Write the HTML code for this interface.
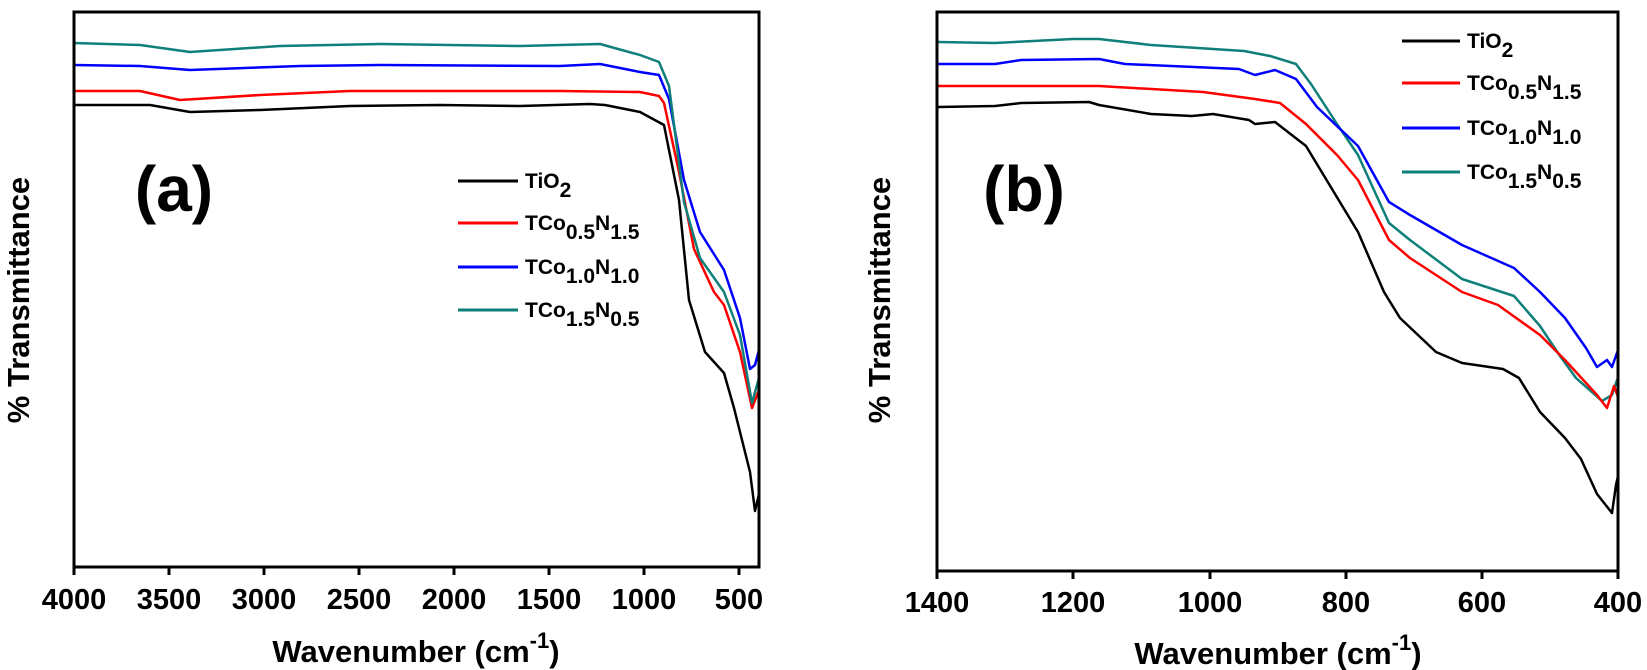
<!DOCTYPE html>
<html><head><meta charset="utf-8"><style>
html,body{margin:0;padding:0;background:#fff;}
svg{display:block;font-family:"Liberation Sans",sans-serif;font-weight:bold;}
</style></head><body>
<svg width="1647" height="670" viewBox="0 0 1647 670" xmlns="http://www.w3.org/2000/svg">
<g fill="none" stroke-width="2.5" stroke-linejoin="round">
<polyline stroke="#000" points="74,105 150,105 190,112 260,110 350,106 440,105 520,106 590,104 605,105 640,112 664,125 679,200 689,300 705,352 724,373 734,408 750,472 755,511 759,494"/>
<polyline stroke="#ff0000" points="74,91 140,91 180,100 260,95 350,91 560,91 640,92 659,96 664,103 679,172 694,249 714,292 724,305 740,352 752,408 759,390"/>
<polyline stroke="#0000ff" points="74,65 140,66 190,70 300,66 380,65 560,66 600,64 640,72 659,75 669,99 684,180 700,232 724,270 740,318 750,369 755,365 759,350"/>
<polyline stroke="#0f7f7a" points="74,43 140,45 190,52 280,46 380,44 520,46 600,44 640,55 659,62 669,86 684,202 700,258 724,292 740,335 752,403 759,378"/>
<polyline stroke="#0f7f7a" points="938,42 995,43 1073,39 1099,39 1151,45 1244,51 1270,56 1296,64 1311,84 1337,124 1358,155 1389,223 1410,240 1462,279 1514,296 1540,326 1560,356 1576,378 1602,401 1612,395 1617,380 1618,382"/>
<polyline stroke="#0000ff" points="938,64 995,64 1021,60 1099,59 1125,64 1239,69 1255,75 1275,70 1296,79 1317,107 1358,146 1389,202 1410,215 1462,245 1514,268 1540,292 1565,318 1586,348 1597,367 1607,360 1612,367 1618,350"/>
<polyline stroke="#ff0000" points="938,86 1099,86 1203,92 1255,99 1280,103 1306,124 1337,155 1358,180 1389,240 1410,258 1462,292 1498,305 1540,335 1565,360 1597,395 1607,408 1614,386 1618,397"/>
<polyline stroke="#000" points="938,107 995,106 1021,103 1089,102 1099,105 1151,114 1192,116 1213,114 1249,120 1255,124 1275,122 1306,146 1332,189 1358,232 1384,292 1400,318 1436,352 1462,363 1503,369 1519,378 1540,412 1565,438 1581,459 1597,494 1612,513 1616,485 1618,476"/>
</g>
<g fill="none" stroke="#000" stroke-width="3">
<rect x="74" y="12" width="685" height="555"/>
<rect x="937" y="12" width="681" height="559"/>
<path d="M74,567v8M169,567v8M264,567v8M359,567v8M454,567v8M549,567v8M644,567v8M739,567v8M937,571v8M1073,571v8M1210,571v8M1346,571v8M1482,571v8M1618,571v8"/>
</g>
<g font-size="29" text-anchor="middle">
<text x="74" y="609">4000</text><text x="169" y="609">3500</text><text x="264" y="609">3000</text><text x="359" y="609">2500</text><text x="454" y="609">2000</text><text x="549" y="609">1500</text><text x="644" y="609">1000</text><text x="739" y="609">500</text>
<text x="937" y="612">1400</text><text x="1073" y="612">1200</text><text x="1210" y="612">1000</text><text x="1346" y="612">800</text><text x="1482" y="612">600</text><text x="1618" y="612">400</text>
</g>
<g font-size="31" text-anchor="middle">
<text x="416" y="662">Wavenumber (cm<tspan font-size="22" dy="-14">-1</tspan><tspan dy="14">)</tspan></text>
<text x="1278" y="664">Wavenumber (cm<tspan font-size="22" dy="-14">-1</tspan><tspan dy="14">)</tspan></text>
<text transform="translate(29,300) rotate(-90)">% Transmittance</text>
<text transform="translate(890,300) rotate(-90)">% Transmittance</text>
</g>
<g font-size="64">
<text x="174" y="211" text-anchor="middle">(a)</text>
<text x="1024" y="211" text-anchor="middle">(b)</text>
</g>
<g stroke-width="3">
<line x1="458" y1="181" x2="518" y2="181" stroke="#000"/>
<line x1="458" y1="223" x2="518" y2="223" stroke="#ff0000"/>
<line x1="458" y1="267" x2="518" y2="267" stroke="#0000ff"/>
<line x1="458" y1="310" x2="518" y2="310" stroke="#0f7f7a"/>
<line x1="1402" y1="41" x2="1460" y2="41" stroke="#000"/>
<line x1="1402" y1="83" x2="1460" y2="83" stroke="#ff0000"/>
<line x1="1402" y1="128" x2="1460" y2="128" stroke="#0000ff"/>
<line x1="1402" y1="172" x2="1460" y2="172" stroke="#0f7f7a"/>
</g>
<g font-size="21">
<text x="525" y="188">TiO<tspan dy="9">2</tspan></text>
<text x="525" y="230">TCo<tspan dy="9">0.5</tspan><tspan dy="-9">N</tspan><tspan dy="9">1.5</tspan></text>
<text x="525" y="274">TCo<tspan dy="9">1.0</tspan><tspan dy="-9">N</tspan><tspan dy="9">1.0</tspan></text>
<text x="525" y="317">TCo<tspan dy="9">1.5</tspan><tspan dy="-9">N</tspan><tspan dy="9">0.5</tspan></text>
<text x="1467" y="48">TiO<tspan dy="9">2</tspan></text>
<text x="1467" y="90">TCo<tspan dy="9">0.5</tspan><tspan dy="-9">N</tspan><tspan dy="9">1.5</tspan></text>
<text x="1467" y="135">TCo<tspan dy="9">1.0</tspan><tspan dy="-9">N</tspan><tspan dy="9">1.0</tspan></text>
<text x="1467" y="179">TCo<tspan dy="9">1.5</tspan><tspan dy="-9">N</tspan><tspan dy="9">0.5</tspan></text>
</g>
</svg>
</body></html>
